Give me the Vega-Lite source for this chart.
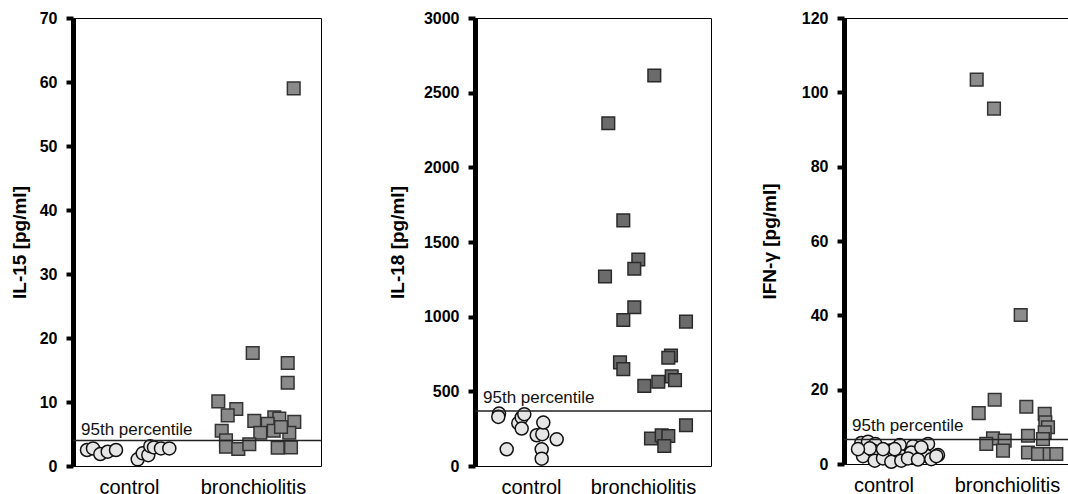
{
  "$schema": "https://vega.github.io/schema/vega-lite/v6.json",
  "padding": {"left": 9, "top": 9, "right": 0, "bottom": 0},
  "background": "#ffffff",
  "config": {
    "view": {"stroke": "#000000", "strokeWidth": 1},
    "font": "Liberation Sans",
    "axisY": {
      "grid": false, "domainColor": "#000000", "domainWidth": 5, "tickColor": "#000000",
      "tickWidth": 4, "tickSize": 7, "labelPadding": 9, "labelFont": "Liberation Sans",
      "labelFontWeight": "bold", "labelFontSize": 16, "labelColor": "#000000",
      "titleFont": "Liberation Sans", "titleFontSize": 19, "titleFontWeight": "bold",
      "titleColor": "#000000", "labelOverlap": false, "labelFlush": false, "format": "d"
    },
    "axisX": {
      "title": null, "domain": false, "ticks": false, "grid": false, "labelFontSize": 20,
      "labelFont": "Liberation Sans", "labelColor": "#000000", "labelPadding": 11,
      "labelFlush": false, "labelOverlap": false,
      "labelExpr": "datum.value < 100 ? 'control' : 'bronchiolitis'"
    }
  },
  "datasets": {
    "pts": [
      {"p": "IL-15", "g": "control", "x": 14, "v": 2.5},
      {"p": "IL-15", "g": "control", "x": 20, "v": 2.75},
      {"p": "IL-15", "g": "control", "x": 27.3, "v": 1.87},
      {"p": "IL-15", "g": "control", "x": 34.7, "v": 2.23},
      {"p": "IL-15", "g": "control", "x": 43, "v": 2.5},
      {"p": "IL-15", "g": "control", "x": 64.7, "v": 1.04},
      {"p": "IL-15", "g": "control", "x": 69.7, "v": 1.98},
      {"p": "IL-15", "g": "control", "x": 75.3, "v": 1.7},
      {"p": "IL-15", "g": "control", "x": 77.3, "v": 3.1},
      {"p": "IL-15", "g": "control", "x": 81, "v": 2.9},
      {"p": "IL-15", "g": "control", "x": 88, "v": 2.75},
      {"p": "IL-15", "g": "control", "x": 96.3, "v": 2.75},
      {"p": "IL-15", "g": "bronchiolitis", "x": 220.7, "v": 59.0},
      {"p": "IL-15", "g": "bronchiolitis", "x": 179.7, "v": 17.65},
      {"p": "IL-15", "g": "bronchiolitis", "x": 214.7, "v": 16.1},
      {"p": "IL-15", "g": "bronchiolitis", "x": 214.7, "v": 13.0},
      {"p": "IL-15", "g": "bronchiolitis", "x": 145.3, "v": 10.1},
      {"p": "IL-15", "g": "bronchiolitis", "x": 163.3, "v": 8.9},
      {"p": "IL-15", "g": "bronchiolitis", "x": 154.7, "v": 7.9},
      {"p": "IL-15", "g": "bronchiolitis", "x": 181.3, "v": 7.06},
      {"p": "IL-15", "g": "bronchiolitis", "x": 201.3, "v": 7.6},
      {"p": "IL-15", "g": "bronchiolitis", "x": 206.3, "v": 7.4},
      {"p": "IL-15", "g": "bronchiolitis", "x": 221.3, "v": 6.9},
      {"p": "IL-15", "g": "bronchiolitis", "x": 194.7, "v": 6.6},
      {"p": "IL-15", "g": "bronchiolitis", "x": 148.7, "v": 5.5},
      {"p": "IL-15", "g": "bronchiolitis", "x": 187.3, "v": 5.2},
      {"p": "IL-15", "g": "bronchiolitis", "x": 200.7, "v": 5.5},
      {"p": "IL-15", "g": "bronchiolitis", "x": 216.3, "v": 5.2},
      {"p": "IL-15", "g": "bronchiolitis", "x": 208, "v": 6.1},
      {"p": "IL-15", "g": "bronchiolitis", "x": 153, "v": 4.0},
      {"p": "IL-15", "g": "bronchiolitis", "x": 153, "v": 3.0},
      {"p": "IL-15", "g": "bronchiolitis", "x": 165.3, "v": 2.65},
      {"p": "IL-15", "g": "bronchiolitis", "x": 176.3, "v": 3.4},
      {"p": "IL-15", "g": "bronchiolitis", "x": 204.7, "v": 2.85},
      {"p": "IL-15", "g": "bronchiolitis", "x": 218, "v": 2.9},
      {"p": "IL-18", "g": "control", "x": 24, "v": 351},
      {"p": "IL-18", "g": "control", "x": 23.3, "v": 329},
      {"p": "IL-18", "g": "control", "x": 31.7, "v": 112},
      {"p": "IL-18", "g": "control", "x": 43.3, "v": 287},
      {"p": "IL-18", "g": "control", "x": 46.7, "v": 325},
      {"p": "IL-18", "g": "control", "x": 49.3, "v": 347},
      {"p": "IL-18", "g": "control", "x": 46.7, "v": 251},
      {"p": "IL-18", "g": "control", "x": 61.7, "v": 206},
      {"p": "IL-18", "g": "control", "x": 67.3, "v": 213},
      {"p": "IL-18", "g": "control", "x": 68.3, "v": 291},
      {"p": "IL-18", "g": "control", "x": 66.7, "v": 112},
      {"p": "IL-18", "g": "control", "x": 66.7, "v": 49},
      {"p": "IL-18", "g": "control", "x": 81.7, "v": 179},
      {"p": "IL-18", "g": "bronchiolitis", "x": 179.3, "v": 2615},
      {"p": "IL-18", "g": "bronchiolitis", "x": 133.3, "v": 2295},
      {"p": "IL-18", "g": "bronchiolitis", "x": 148.3, "v": 1645},
      {"p": "IL-18", "g": "bronchiolitis", "x": 163.3, "v": 1383},
      {"p": "IL-18", "g": "bronchiolitis", "x": 159.3, "v": 1321},
      {"p": "IL-18", "g": "bronchiolitis", "x": 130, "v": 1269},
      {"p": "IL-18", "g": "bronchiolitis", "x": 159.3, "v": 1063},
      {"p": "IL-18", "g": "bronchiolitis", "x": 148.3, "v": 978},
      {"p": "IL-18", "g": "bronchiolitis", "x": 211, "v": 967},
      {"p": "IL-18", "g": "bronchiolitis", "x": 196, "v": 740},
      {"p": "IL-18", "g": "bronchiolitis", "x": 193.3, "v": 725},
      {"p": "IL-18", "g": "bronchiolitis", "x": 145, "v": 694},
      {"p": "IL-18", "g": "bronchiolitis", "x": 148.3, "v": 649},
      {"p": "IL-18", "g": "bronchiolitis", "x": 169.3, "v": 537},
      {"p": "IL-18", "g": "bronchiolitis", "x": 183.3, "v": 564},
      {"p": "IL-18", "g": "bronchiolitis", "x": 196.7, "v": 600},
      {"p": "IL-18", "g": "bronchiolitis", "x": 200, "v": 575},
      {"p": "IL-18", "g": "bronchiolitis", "x": 211, "v": 273},
      {"p": "IL-18", "g": "bronchiolitis", "x": 176, "v": 184},
      {"p": "IL-18", "g": "bronchiolitis", "x": 186.7, "v": 206},
      {"p": "IL-18", "g": "bronchiolitis", "x": 193.3, "v": 201},
      {"p": "IL-18", "g": "bronchiolitis", "x": 189.3, "v": 134},
      {"p": "IFN", "g": "control", "x": 17.3, "v": 5.65},
      {"p": "IFN", "g": "control", "x": 24, "v": 6.0},
      {"p": "IFN", "g": "control", "x": 31.3, "v": 5.4},
      {"p": "IFN", "g": "control", "x": 55.7, "v": 5.1},
      {"p": "IFN", "g": "control", "x": 69, "v": 4.8},
      {"p": "IFN", "g": "control", "x": 84, "v": 5.4},
      {"p": "IFN", "g": "control", "x": 19, "v": 2.1},
      {"p": "IFN", "g": "control", "x": 29, "v": 3.6},
      {"p": "IFN", "g": "control", "x": 41.3, "v": 2.2},
      {"p": "IFN", "g": "control", "x": 45.7, "v": 3.6},
      {"p": "IFN", "g": "control", "x": 57.3, "v": 2.1},
      {"p": "IFN", "g": "control", "x": 67.3, "v": 3.1},
      {"p": "IFN", "g": "control", "x": 79, "v": 3.0},
      {"p": "IFN", "g": "control", "x": 82.3, "v": 2.2},
      {"p": "IFN", "g": "control", "x": 94, "v": 2.4},
      {"p": "IFN", "g": "control", "x": 30.7, "v": 0.9},
      {"p": "IFN", "g": "control", "x": 39, "v": 1.5},
      {"p": "IFN", "g": "control", "x": 47.3, "v": 0.6},
      {"p": "IFN", "g": "control", "x": 57.3, "v": 0.9},
      {"p": "IFN", "g": "control", "x": 64, "v": 1.5},
      {"p": "IFN", "g": "control", "x": 74, "v": 1.2},
      {"p": "IFN", "g": "control", "x": 87.3, "v": 1.3},
      {"p": "IFN", "g": "control", "x": 92.3, "v": 2.1},
      {"p": "IFN", "g": "control", "x": 25.7, "v": 4.2},
      {"p": "IFN", "g": "control", "x": 50.7, "v": 4.0},
      {"p": "IFN", "g": "control", "x": 39, "v": 4.0},
      {"p": "IFN", "g": "control", "x": 14, "v": 4.0},
      {"p": "IFN", "g": "control", "x": 77.3, "v": 4.5},
      {"p": "IFN", "g": "bronchiolitis", "x": 132.7, "v": 103.4},
      {"p": "IFN", "g": "bronchiolitis", "x": 150, "v": 95.6},
      {"p": "IFN", "g": "bronchiolitis", "x": 176.7, "v": 40.1},
      {"p": "IFN", "g": "bronchiolitis", "x": 150.7, "v": 17.3},
      {"p": "IFN", "g": "bronchiolitis", "x": 134.7, "v": 13.7},
      {"p": "IFN", "g": "bronchiolitis", "x": 182.3, "v": 15.4},
      {"p": "IFN", "g": "bronchiolitis", "x": 200.7, "v": 13.5},
      {"p": "IFN", "g": "bronchiolitis", "x": 201.3, "v": 11.2},
      {"p": "IFN", "g": "bronchiolitis", "x": 204, "v": 9.9},
      {"p": "IFN", "g": "bronchiolitis", "x": 200.7, "v": 8.5},
      {"p": "IFN", "g": "bronchiolitis", "x": 184, "v": 7.6},
      {"p": "IFN", "g": "bronchiolitis", "x": 149, "v": 6.9},
      {"p": "IFN", "g": "bronchiolitis", "x": 142.3, "v": 5.4},
      {"p": "IFN", "g": "bronchiolitis", "x": 160.7, "v": 6.3},
      {"p": "IFN", "g": "bronchiolitis", "x": 159, "v": 3.6},
      {"p": "IFN", "g": "bronchiolitis", "x": 199, "v": 6.7},
      {"p": "IFN", "g": "bronchiolitis", "x": 184, "v": 3.1},
      {"p": "IFN", "g": "bronchiolitis", "x": 194, "v": 2.7},
      {"p": "IFN", "g": "bronchiolitis", "x": 205.7, "v": 2.7},
      {"p": "IFN", "g": "bronchiolitis", "x": 212.3, "v": 2.7}
    ],
    "thr": [
      {"p": "IL-15", "v": 4.0, "label": "95th percentile"},
      {"p": "IL-18", "v": 368, "label": "95th percentile"},
      {"p": "IFN", "v": 6.6, "label": "95th percentile"}
    ]
  },
  "spacing": 46,
  "hconcat": [
    {
      "spacing": 64,
      "hconcat": [
        {
          "width": 248, "height": 448,
          "layer": [
            {
              "data": {"name": "pts"},
              "transform": [{"filter": "datum.p == 'IL-15' && datum.g == 'control'"}],
              "mark": {"type": "point", "shape": "circle", "filled": true, "fill": "#e6e6e6", "stroke": "#111111", "strokeWidth": 1.5, "size": 170, "opacity": 1},
              "encoding": {
                "x": {"field": "x", "type": "quantitative", "scale": {"domain": [0, 248], "nice": false, "zero": false}, "axis": {"values": [56, 180]}},
                "y": {"field": "v", "type": "quantitative", "scale": {"domain": [0, 70], "nice": false}, "axis": {"title": "IL-15 [pg/ml]", "values": [0, 10, 20, 30, 40, 50, 60, 70], "titlePadding": 10}}
              }
            },
            {
              "data": {"name": "pts"},
              "transform": [{"filter": "datum.p == 'IL-15' && datum.g == 'bronchiolitis'"}],
              "mark": {"type": "point", "shape": "square", "filled": true, "fill": "#8a8a8a", "stroke": "#333333", "strokeWidth": 1.5, "size": 160, "opacity": 1},
              "encoding": {
                "x": {"field": "x", "type": "quantitative"},
                "y": {"field": "v", "type": "quantitative"}
              }
            },
            {
              "data": {"name": "thr"},
              "transform": [{"filter": "datum.p == 'IL-15'"}],
              "mark": {"type": "rule", "color": "#222222", "strokeWidth": 1.5},
              "encoding": {"y": {"field": "v", "type": "quantitative"}}
            },
            {
              "data": {"name": "thr"},
              "transform": [{"filter": "datum.p == 'IL-15'"}],
              "mark": {"type": "text", "align": "left", "baseline": "alphabetic", "dx": 8, "dy": -5, "fontSize": 17, "font": "Liberation Sans", "color": "#111111"},
              "encoding": {"x": {"datum": 0, "type": "quantitative"}, "y": {"field": "v", "type": "quantitative"}, "text": {"field": "label"}}
            }
          ]
        },
        {
          "width": 236, "height": 448,
          "layer": [
            {
              "data": {"name": "pts"},
              "transform": [{"filter": "datum.p == 'IL-18' && datum.g == 'control'"}],
              "mark": {"type": "point", "shape": "circle", "filled": true, "fill": "#e6e6e6", "stroke": "#111111", "strokeWidth": 1.5, "size": 170, "opacity": 1},
              "encoding": {
                "x": {"field": "x", "type": "quantitative", "scale": {"domain": [0, 236], "nice": false, "zero": false}, "axis": {"values": [56, 168]}},
                "y": {"field": "v", "type": "quantitative", "scale": {"domain": [0, 3000], "nice": false}, "axis": {"title": "IL-18 [pg/ml]", "values": [0, 500, 1000, 1500, 2000, 2500, 3000], "titlePadding": 16}}
              }
            },
            {
              "data": {"name": "pts"},
              "transform": [{"filter": "datum.p == 'IL-18' && datum.g == 'bronchiolitis'"}],
              "mark": {"type": "point", "shape": "square", "filled": true, "fill": "#6b6b6b", "stroke": "#2a2a2a", "strokeWidth": 1.5, "size": 160, "opacity": 1},
              "encoding": {
                "x": {"field": "x", "type": "quantitative"},
                "y": {"field": "v", "type": "quantitative"}
              }
            },
            {
              "data": {"name": "thr"},
              "transform": [{"filter": "datum.p == 'IL-18'"}],
              "mark": {"type": "rule", "color": "#222222", "strokeWidth": 1.5},
              "encoding": {"y": {"field": "v", "type": "quantitative"}}
            },
            {
              "data": {"name": "thr"},
              "transform": [{"filter": "datum.p == 'IL-18'"}],
              "mark": {"type": "text", "align": "left", "baseline": "alphabetic", "dx": 8, "dy": -8, "fontSize": 17, "font": "Liberation Sans", "color": "#111111"},
              "encoding": {"x": {"datum": 0, "type": "quantitative"}, "y": {"field": "v", "type": "quantitative"}, "text": {"field": "label"}}
            }
          ]
        }
      ]
    },
    {
      "width": 226, "height": 446,
      "layer": [
        {
          "data": {"name": "pts"},
          "transform": [{"filter": "datum.p == 'IFN' && datum.g == 'control'"}],
          "mark": {"type": "point", "shape": "circle", "filled": true, "fill": "#e6e6e6", "stroke": "#111111", "strokeWidth": 1.5, "size": 170, "opacity": 1},
          "encoding": {
            "x": {"field": "x", "type": "quantitative", "scale": {"domain": [0, 226], "nice": false, "zero": false}, "axis": {"values": [39.5, 163]}},
            "y": {"field": "v", "type": "quantitative", "scale": {"domain": [0, 120], "nice": false}, "axis": {"title": "IFN-γ [pg/ml]", "values": [0, 20, 40, 60, 80, 100, 120], "titlePadding": 22}}
          }
        },
        {
          "data": {"name": "pts"},
          "transform": [{"filter": "datum.p == 'IFN' && datum.g == 'bronchiolitis'"}],
          "mark": {"type": "point", "shape": "square", "filled": true, "fill": "#8c8c8c", "stroke": "#333333", "strokeWidth": 1.5, "size": 160, "opacity": 1},
          "encoding": {
            "x": {"field": "x", "type": "quantitative"},
            "y": {"field": "v", "type": "quantitative"}
          }
        },
        {
          "data": {"name": "thr"},
          "transform": [{"filter": "datum.p == 'IFN'"}],
          "mark": {"type": "rule", "color": "#222222", "strokeWidth": 1.5},
          "encoding": {"y": {"field": "v", "type": "quantitative"}}
        },
        {
          "data": {"name": "thr"},
          "transform": [{"filter": "datum.p == 'IFN'"}],
          "mark": {"type": "text", "align": "left", "baseline": "alphabetic", "dx": 8, "dy": -8, "fontSize": 17, "font": "Liberation Sans", "color": "#111111"},
          "encoding": {"x": {"datum": 0, "type": "quantitative"}, "y": {"field": "v", "type": "quantitative"}, "text": {"field": "label"}}
        }
      ]
    }
  ]
}
